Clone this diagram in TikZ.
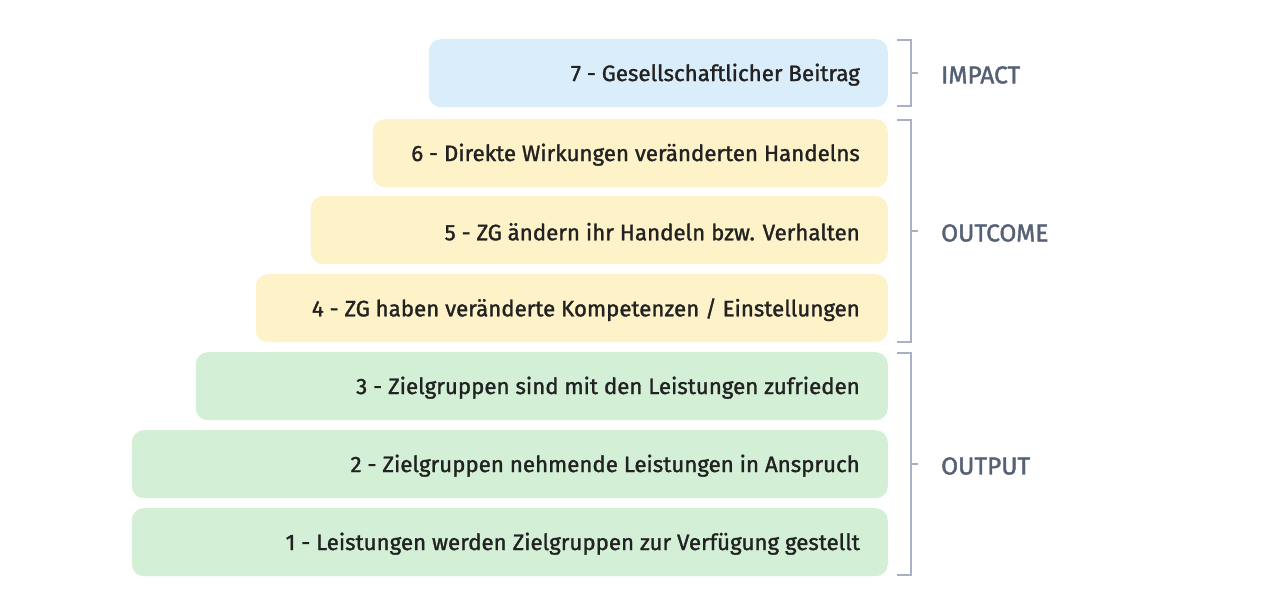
\documentclass[tikz,border=0pt]{standalone}
\usepackage{fontspec}
\setmainfont{Fira Sans}
\newfontfamily\boxfont{Fira Sans}[FakeBold=1.4]
\newfontfamily\labelfont{Fira Sans}[FakeBold=1.6]
\definecolor{bluebox}{HTML}{DAEDFB}
\definecolor{yellowbox}{HTML}{FDF2C8}
\definecolor{greenbox}{HTML}{D3F0D6}
\definecolor{txt}{HTML}{222222}
\definecolor{brk}{HTML}{A8B2C4}
\definecolor{lbl}{HTML}{566176}
\begin{document}
\begin{tikzpicture}[x=1pt,y=-1pt,
  stage/.style={rounded corners=12pt, inner sep=0pt, minimum height=68pt, anchor=north east},
  stagetext/.style={anchor=east, text=txt, font=\boxfont\fontsize{22.3}{26}\selectfont, inner sep=0pt},
  bracket/.style={draw=brk, line width=2pt},
  grouplabel/.style={anchor=west, text=lbl, font=\labelfont\fontsize{24.5}{28}\selectfont, inner sep=0pt}]
\useasboundingbox (0,0) rectangle (1280,603);
\node[stage, fill=bluebox, minimum width=459pt] (b7) at (888,39) {};
\node[stage, fill=yellowbox, minimum width=515pt] (b6) at (888,119) {};
\node[stage, fill=yellowbox, minimum width=577pt] (b5) at (888,196) {};
\node[stage, fill=yellowbox, minimum width=632pt] (b4) at (888,274) {};
\node[stage, fill=greenbox, minimum width=692pt] (b3) at (888,352) {};
\node[stage, fill=greenbox, minimum width=756pt] (b2) at (888,430) {};
\node[stage, fill=greenbox, minimum width=756pt] (b1) at (888,508) {};
\node[stagetext] (t7) at ([xshift=-28pt,yshift=-1.5pt]b7.east) {7 - Gesellschaftlicher Beitrag};
\node[stagetext] (t6) at ([xshift=-28pt,yshift=-1.5pt]b6.east) {6 - Direkte Wirkungen veränderten Handelns};
\node[stagetext] (t5) at ([xshift=-28pt,yshift=-1.5pt]b5.east) {5 - ZG ändern ihr Handeln bzw. Verhalten};
\node[stagetext] (t4) at ([xshift=-28pt,yshift=-1.5pt]b4.east) {4 - ZG haben veränderte Kompetenzen / Einstellungen};
\node[stagetext] (t3) at ([xshift=-28pt,yshift=-1.5pt]b3.east) {3 - Zielgruppen sind mit den Leistungen zufrieden};
\node[stagetext] (t2) at ([xshift=-28pt,yshift=-1.5pt]b2.east) {2 - Zielgruppen nehmende Leistungen in Anspruch};
\node[stagetext] (t1) at ([xshift=-28pt,yshift=-1.5pt]b1.east) {1 - Leistungen werden Zielgruppen zur Verfügung gestellt};
% brackets
\coordinate (i1) at (897,40); \coordinate (i2) at (911,40);
\coordinate (i3) at (911,106); \coordinate (i4) at (897,106);
\coordinate (im) at (911,73); \coordinate (imt) at (918,73);
\draw[bracket] (i1) -- (i2) -- (i3) -- (i4);
\draw[bracket] (im) -- (imt);
\coordinate (o1) at (897,120); \coordinate (o2) at (911,120);
\coordinate (o3) at (911,342); \coordinate (o4) at (897,342);
\coordinate (om) at (911,231); \coordinate (omt) at (918,231);
\draw[bracket] (o1) -- (o2) -- (o3) -- (o4);
\draw[bracket] (om) -- (omt);
\coordinate (p1) at (897,353); \coordinate (p2) at (911,353);
\coordinate (p3) at (911,575); \coordinate (p4) at (897,575);
\coordinate (pm) at (911,464); \coordinate (pmt) at (918,464);
\draw[bracket] (p1) -- (p2) -- (p3) -- (p4);
\draw[bracket] (pm) -- (pmt);
\node[grouplabel] (limpact) at (941,75) {IMPACT};
\node[grouplabel] (loutcome) at (941,233) {OUTCOME};
\node[grouplabel] (loutput) at (941,466) {OUTPUT};
\end{tikzpicture}
\end{document}
